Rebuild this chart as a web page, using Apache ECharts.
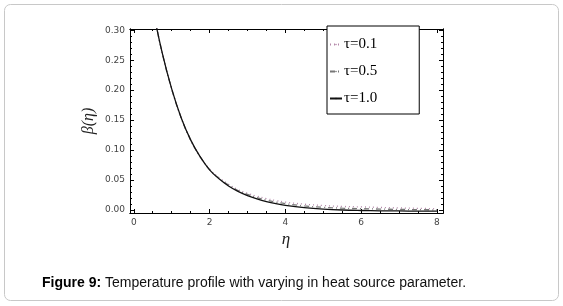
<!DOCTYPE html>
<html><head><meta charset="utf-8">
<script src="https://cdn.jsdelivr.net/npm/echarts@6/dist/echarts.min.js"></script>
<style>html,body{margin:0;padding:0;background:#fff}#c{width:563px;height:306px}</style>
</head><body><div id="c"></div>
<script>
const eta = [0.5,0.75,1.0,1.25,1.5,1.75,2.0,2.25,2.5,2.75,3.0,3.25,3.5,3.75,4.0,4.5,5.0,5.5,6.0,6.5,7.0,7.5,8.0];
const tau01 = [0.336,0.262,0.202,0.154,0.117,0.089,0.068,0.054,0.043,0.034,0.028,0.023,0.019,0.0158,0.0132,0.0097,0.0075,0.0060,0.0052,0.0043,0.0035,0.0028,0.0022];
const tau05 = [0.336,0.262,0.202,0.154,0.117,0.089,0.0675,0.053,0.0415,0.0325,0.026,0.0207,0.0165,0.0131,0.0105,0.0068,0.0045,0.0030,0.0022,0.0015,0.0010,0.0006,0.0003];
const tau10 = [0.336,0.262,0.202,0.154,0.117,0.089,0.067,0.052,0.040,0.031,0.024,0.0185,0.014,0.0105,0.0078,0.0040,0.0015,0.0,-0.0008,-0.0013,-0.0016,-0.0018,-0.002];
const seriesNames = ['τ=0.1','τ=0.5','τ=1.0'];
const xMajor = [0,2,4,6,8];
const yMajor = [0,0.05,0.10,0.15,0.20,0.25,0.30];

const xMinor = []; for (let i=0;i<=16;i++) xMinor.push(i*0.5);
const yMinor = []; for (let i=0;i<=30;i++) yMinor.push(+(i*0.01).toFixed(2));

const chart = echarts.init(document.getElementById('c'), null, {renderer:'canvas'});
const lblX = {fontSize:9, color:'#444', fontFamily:'DejaVu Sans', margin:5};
function xAx(pos, ticks, len, labels){
  return {type:'value', min:-0.1, max:8.16, position:pos, gridIndex:0,
    axisLine:{show:true, onZero:false, lineStyle:{color:'#000', width:1}},
    splitLine:{show:false},
    axisTick:{show:true, inside:true, length:len, customValues:ticks, lineStyle:{color:'#000'}},
    axisLabel: labels ? Object.assign({show:true, customValues:xMajor, formatter:v=>String(Math.round(v))}, lblX) : {show:false}};
}
function yAx(pos, ticks, len, labels){
  return {type:'value', min:-0.005, max:0.302, position:pos, gridIndex:0,
    axisLine:{show:true, onZero:false, lineStyle:{color:'#000', width:1}},
    splitLine:{show:false},
    axisTick:{show:true, inside:true, length:len, customValues:ticks, lineStyle:{color:'#000'}},
    axisLabel: labels ? Object.assign({show:true, customValues:yMajor, formatter:v=>v.toFixed(2)}, lblX) : {show:false}};
}
const colors = ['#b488aa','#777777','#111111'];
const types = [[1,3],[5,3,1,3],'solid'];
const datas = [tau01, tau05, tau10];
chart.setOption({
  animation:false,
  grid:{left:130, right:120, top:29, bottom:93},
  xAxis:[xAx('bottom', xMajor, 4, true), xAx('bottom', xMinor, 2, false), xAx('top', xMajor, 4, false), xAx('top', xMinor, 2, false)],
  yAxis:[yAx('left', yMajor, 4, true), yAx('left', yMinor, 2, false), yAx('right', yMajor, 4, false), yAx('right', yMinor, 2, false)],
  legend:{show:true, orient:'vertical', left:327, top:26, width:60,
    padding:[11,42,8,2], itemGap:12, itemWidth:12, itemHeight:2,
    backgroundColor:'#fff', borderColor:'#000', borderWidth:1, borderRadius:0,
    textStyle:{fontFamily:'Liberation Serif', fontSize:15, color:'#000', padding:[0,0,0,-3]},
    data: seriesNames},
  series: seriesNames.map((n,i)=>({
    name:n, type:'line', xAxisIndex:0, yAxisIndex:0, symbol:'none', smooth:0.4, clip:true,
    lineStyle:{color:colors[i], width:1.3, type:types[i]},
    itemStyle:{color:colors[i]},
    data: eta.map((x,j)=>[x, datas[i][j]])
  })),
  graphic:[
    {type:'rect', shape:{x:4.5,y:4.5,width:554,height:296,r:6}, style:{fill:'none', stroke:'#c8c8c8', lineWidth:1}, z:-10},
    {type:'text', x:89, y:121, rotation:Math.PI/2, style:{text:'β(η)', font:'italic 16px "Liberation Serif"', fill:'#222', align:'center', verticalAlign:'middle'}},
    {type:'text', x:286, y:240, style:{text:'η', font:'italic 17px "Liberation Serif"', fill:'#222', align:'center', verticalAlign:'middle'}},
    {type:'text', x:42, y:283, style:{text:'{b|Figure 9:} Temperature profile with varying in heat source parameter.',
      rich:{b:{fontWeight:'bold', fontSize:14, fontFamily:'Liberation Sans', fill:'#000'}},
      font:'14px "Liberation Sans"', fill:'#111', verticalAlign:'middle'}}
  ]
});
</script></body></html>
